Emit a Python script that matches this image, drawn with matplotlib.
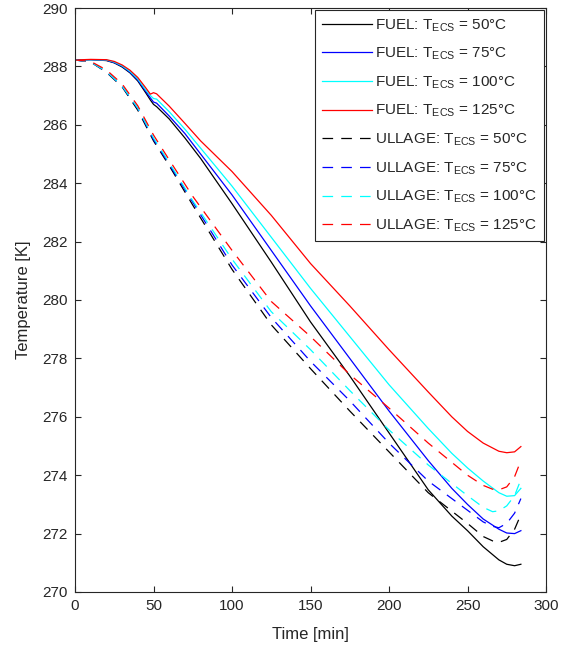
import numpy as np
import matplotlib
matplotlib.use("Agg")
import matplotlib.pyplot as plt

plt.rcParams['font.family'] = ['Liberation Sans', 'DejaVu Sans']
plt.rcParams['mathtext.fontset'] = 'custom'
plt.rcParams['mathtext.rm'] = 'Liberation Sans'
plt.rcParams['mathtext.it'] = 'Liberation Sans'

# ---- data ----
time_fuel = [0, 10, 20, 25, 30, 35, 40, 45, 48, 50, 52, 60, 70, 80, 100, 125, 150,
             175, 200, 225, 240, 250, 260, 270, 275, 280, 284]
fuel_50 = [288.22, 288.23, 288.2, 288.12, 287.98, 287.78, 287.5, 287.1, 286.85, 286.7,
           286.62, 286.2, 285.55, 284.85, 283.3, 281.3, 279.25, 277.4, 275.45, 273.5,
           272.6, 272.1, 271.55, 271.1, 270.95, 270.9, 270.95]
fuel_75 = [288.22, 288.23, 288.21, 288.13, 288.0, 287.8, 287.53, 287.15, 286.92, 286.78,
           286.74, 286.3, 285.7, 285.0, 283.6, 281.7, 279.8, 278.0, 276.2, 274.5,
           273.55, 273.0, 272.5, 272.15, 272.02, 272.0, 272.1]
fuel_100 = [288.22, 288.23, 288.22, 288.15, 288.02, 287.83, 287.57, 287.2, 287.0, 286.9,
            286.88, 286.45, 285.85, 285.2, 283.9, 282.15, 280.4, 278.75, 277.1, 275.6,
            274.75, 274.25, 273.8, 273.4, 273.28, 273.3, 273.55]
fuel_125 = [288.22, 288.24, 288.23, 288.17, 288.05, 287.87, 287.62, 287.27, 287.05, 287.1,
            287.06, 286.64, 286.05, 285.45, 284.4, 282.9, 281.25, 279.8, 278.3, 276.85,
            276.0, 275.5, 275.1, 274.82, 274.77, 274.8, 274.98]

time_ullage = [0, 10, 20, 30, 40, 50, 60, 75, 100, 125, 150, 175, 200, 225, 250, 260,
               266, 270, 275, 280, 284]
ullage_50 = [288.22, 288.15, 287.8, 287.3, 286.5, 285.45, 284.6, 283.25, 281.05, 279.15,
             277.65, 276.2, 274.8, 273.4, 272.35, 271.9, 271.75, 271.7, 271.8, 272.15, 272.65]
ullage_75 = [288.22, 288.15, 287.82, 287.32, 286.55, 285.5, 284.65, 283.35, 281.2, 279.4,
             277.9, 276.55, 275.1, 273.8, 272.8, 272.4, 272.25, 272.2, 272.35, 272.7, 273.2]
ullage_100 = [288.22, 288.15, 287.83, 287.33, 286.57, 285.55, 284.7, 283.4, 281.4, 279.6,
              278.3, 276.9, 275.55, 274.35, 273.3, 272.9, 272.75, 272.78, 272.95, 273.3, 273.85]
ullage_125 = [288.22, 288.17, 287.88, 287.4, 286.65, 285.65, 284.8, 283.55, 281.7, 279.95,
              278.75, 277.45, 276.3, 275.1, 274.0, 273.65, 273.52, 273.5, 273.6, 273.95, 274.5]

ecs_temps = ['50', '75', '100', '125']
colors = ['black', 'blue', 'cyan', 'red']
fuel_series = [fuel_50, fuel_75, fuel_100, fuel_125]
ullage_series = [ullage_50, ullage_75, ullage_100, ullage_125]

xticks = [0, 50, 100, 150, 200, 250, 300]
yticks = [270, 272, 274, 276, 278, 280, 282, 284, 286, 288, 290]

# ---- figure ----
fig = plt.figure(figsize=(5.68, 6.46), dpi=100)
ax = fig.add_axes([75 / 568, 1 - 592 / 646, (546 - 75) / 568, (592 - 8) / 646])

axcol = (0.15, 0.15, 0.15)
lw = 0.9
for vals, c, t in zip(fuel_series, colors, ecs_temps):
    ax.plot(time_fuel, vals, color=c, lw=lw,
            label='FUEL: T$_{\\rm ECS}$ = ' + t + '°C')
for vals, c, t in zip(ullage_series, colors, ecs_temps):
    ax.plot(time_ullage, vals, color=c, lw=lw, dashes=(8.5, 6.5),
            label='ULLAGE: T$_{\\rm ECS}$ = ' + t + '°C')

ax.set_xlim(0, 300)
ax.set_ylim(270, 290)
ax.set_xticks(xticks)
ax.set_yticks(yticks)
ax.tick_params(direction='in', top=True, right=True, length=4, width=0.8,
               colors=axcol, labelsize=11, labelcolor=axcol, pad=5)
for s in ax.spines.values():
    s.set_color(axcol)
    s.set_linewidth(0.8)

ax.set_xlabel('Time [min]', fontsize=12, color=axcol, labelpad=10)
ax.set_ylabel('Temperature [K]', fontsize=12, color=axcol, labelpad=8)

leg = ax.legend(loc='upper right', fontsize=11, frameon=True, fancybox=False,
                edgecolor=axcol, framealpha=1, handlelength=3.3, handletextpad=0.2,
                labelspacing=0.8, borderaxespad=0.15, borderpad=0.45)
leg.get_frame().set_linewidth(0.8)
for txt in leg.get_texts():
    txt.set_color(axcol)

fig.savefig('out.png', dpi=100)
